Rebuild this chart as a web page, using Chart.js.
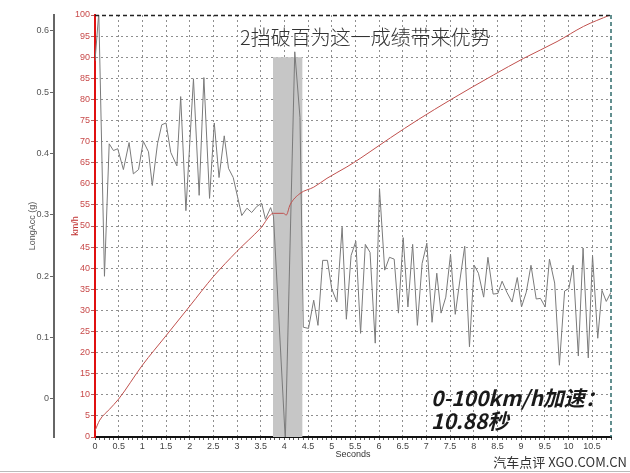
<!DOCTYPE html>
<html>
<head>
<meta charset="utf-8">
<script src="https://cdn.jsdelivr.net/npm/chart.js@4.4.1/dist/chart.umd.min.js"></script>
<style>
  html, body { margin: 0; padding: 0; background: #fff; }
  #wrap { position: relative; width: 630px; height: 473px; }
</style>
</head>
<body>
<div id="wrap"><canvas id="accelChart"></canvas></div>
<script>
// Longitudinal acceleration samples (s, g)
const accTime = [0, 0.08, 0.20, 0.30, 0.39, 0.48, 0.60, 0.72, 0.81, 0.92,
  1.02, 1.13, 1.21, 1.32, 1.41, 1.50, 1.60, 1.73, 1.81, 1.92,
  2.08, 2.20, 2.30, 2.42, 2.52, 2.62, 2.73, 2.82, 2.92, 3.10,
  3.21, 3.31, 3.42, 3.52, 3.60, 3.71, 3.77, 4.02, 4.22, 4.33,
  4.40, 4.51, 4.62, 4.71, 4.81, 4.91, 5.00, 5.11, 5.22, 5.31,
  5.41, 5.51, 5.61, 5.71, 5.81, 5.92, 6.01, 6.12, 6.22, 6.32,
  6.41, 6.51, 6.61, 6.71, 6.81, 6.91, 7.01, 7.12, 7.22, 7.31,
  7.41, 7.51, 7.61, 7.70, 7.81, 7.91, 8.01, 8.10, 8.21, 8.30,
  8.41, 8.51, 8.60, 8.70, 8.81, 8.92, 9.01, 9.11, 9.21, 9.32,
  9.41, 9.51, 9.60, 9.71, 9.81, 9.92, 10.01, 10.10, 10.21, 10.31,
  10.42, 10.51, 10.62, 10.71, 10.80, 10.90];
const accG = [0.551, 0.63, 0.200, 0.416, 0.405, 0.408, 0.374, 0.418, 0.367, 0.374,
  0.420, 0.403, 0.348, 0.416, 0.447, 0.450, 0.402, 0.380, 0.493, 0.307,
  0.522, 0.332, 0.524, 0.327, 0.450, 0.361, 0.429, 0.376, 0.361, 0.299,
  0.311, 0.304, 0.314, 0.319, 0.293, 0.312, 0.298, -0.067, 0.566, 0.459,
  0.117, 0.115, 0.161, 0.120, 0.226, 0.226, 0.180, 0.158, 0.280, 0.130,
  0.234, 0.257, 0.107, 0.252, 0.239, 0.091, 0.343, 0.210, 0.231, 0.228,
  0.140, 0.263, 0.150, 0.252, 0.120, 0.221, 0.254, 0.125, 0.205, 0.140,
  0.166, 0.236, 0.138, 0.189, 0.249, 0.085, 0.218, 0.205, 0.166, 0.231,
  0.171, 0.172, 0.192, 0.174, 0.158, 0.198, 0.150, 0.174, 0.218, 0.163,
  0.164, 0.150, 0.228, 0.189, 0.055, 0.176, 0.180, 0.218, 0.070, 0.246,
  0.067, 0.234, 0.099, 0.177, 0.159, 0.174];

// Vehicle speed samples (s, km/h)
const speedTime = [0, 0.1, 0.3, 0.5, 1.0, 1.5, 2.0, 2.5, 3.0, 3.5, 3.77, 3.98, 4.04, 4.12,
  4.33, 4.62, 4.9, 5.32, 5.6, 5.81, 6.24, 6.84, 7.51, 8.42, 9.05, 9.76, 10.32, 10.88];
const speedKmh = [1.5, 4, 6.5, 9, 17, 24, 31, 38, 44, 49.5, 53, 53, 52.6, 55,
  57.7, 59.2, 61.3, 64, 66, 67.6, 70.9, 75.3, 79.9, 85.8, 89.7, 93.7, 97.3, 100];

// gear change window (s) and its height on the km/h axis
const shiftBand = [3.76, 4.38];
const shiftBandTop = 90;

const chartTitle = '2挡破百为这一成绩带来优势';
const resultLines = ['0-100km/h加速：', '10.88秒'];
const watermark = '汽车点评 XGO.COM.CN';

const tickFont = { family: '"Liberation Sans", Arial, sans-serif', size: 9 };
const cjkFamily = '"Noto Sans CJK SC", "Noto Sans", sans-serif';
const gridGray = '#8f8f8f';

function isHalfStep(v) {
  return Math.abs(v * 2 - Math.round(v * 2)) < 1e-6;
}

// shaded band, plot frame and the texts on top
const decorPlugin = {
  id: 'decor',
  beforeDatasetsDraw(chart) {
    const { ctx, scales: { x, y } } = chart;
    const left = x.getPixelForValue(shiftBand[0]);
    const right = x.getPixelForValue(shiftBand[1]);
    const top = y.getPixelForValue(shiftBandTop);
    const bottom = y.getPixelForValue(0);
    ctx.save();
    ctx.fillStyle = '#c6c6c6';
    ctx.fillRect(left, top, right - left, bottom - top);
    ctx.restore();
  },
  afterDraw(chart) {
    const { ctx, chartArea: a } = chart;
    ctx.save();
    ctx.setLineDash([4, 3]);
    ctx.lineWidth = 1.5;
    ctx.strokeStyle = '#222';
    ctx.beginPath();
    ctx.moveTo(a.left, a.top + 0.5);
    ctx.lineTo(a.right, a.top + 0.5);
    ctx.stroke();
    ctx.strokeStyle = '#2f6b6b';
    ctx.beginPath();
    ctx.moveTo(a.right, a.top);
    ctx.lineTo(a.right, a.bottom);
    ctx.stroke();
    ctx.setLineDash([]);

    // title inside the plot
    ctx.fillStyle = '#333';
    ctx.textBaseline = 'middle';
    ctx.textAlign = 'left';
    ctx.font = '300 20px ' + cjkFamily;
    ctx.fillText(chartTitle, 240, 37);

    // result annotation
    ctx.fillStyle = '#1a1a1a';
    ctx.font = 'italic bold 21px ' + cjkFamily;
    ctx.fillText(resultLines[0], 431, 398);
    ctx.fillText(resultLines[1], 431, 421);

    // watermark and picture frame
    ctx.fillStyle = '#333';
    ctx.font = '13px ' + cjkFamily;
    ctx.textAlign = 'right';
    ctx.fillText(watermark, 627, 462);
    ctx.strokeStyle = '#bbb';
    ctx.lineWidth = 1;
    ctx.beginPath();
    ctx.moveTo(0, 471.5);
    ctx.lineTo(630, 471.5);
    ctx.stroke();
    ctx.restore();
  }
};

const ctx = document.getElementById('accelChart');
new Chart(ctx, {
  type: 'line',
  data: {
    datasets: [
      {
        label: 'km/h',
        data: speedTime.map((t, i) => ({ x: t, y: speedKmh[i] })),
        yAxisID: 'y',
        borderColor: '#c0504d',
        borderWidth: 1,
        pointRadius: 0,
        cubicInterpolationMode: 'monotone'
      },
      {
        label: 'LongAcc (g)',
        data: accTime.map((t, i) => ({ x: t, y: accG[i] })),
        yAxisID: 'yG',
        borderColor: '#7a7a7a',
        borderWidth: 1,
        pointRadius: 0,
        tension: 0
      }
    ]
  },
  options: {
    responsive: true,
    maintainAspectRatio: false,
    animation: false,
    layout: { padding: { top: 15, right: 19, left: 0, bottom: 0 } },
    plugins: {
      legend: { display: false },
      tooltip: { enabled: false }
    },
    scales: {
      x: {
        type: 'linear',
        min: 0,
        max: 10.9,
        afterFit: s => { s.height = 36; },
        ticks: {
          stepSize: 0.1,
          autoSkip: false,
          maxRotation: 0,
          padding: 1,
          color: '#444',
          font: tickFont,
          callback: v => isHalfStep(v) ? String(Number(v.toFixed(1))) : ''
        },
        grid: {
          color: c => (c.tick && isHalfStep(c.tick.value) && c.tick.value > 0) ? gridGray : 'rgba(0,0,0,0)',
          lineWidth: 1,
          tickLength: 3,
          tickColor: '#555'
        },
        border: { color: '#111', width: 2, dash: [2, 3] },
        title: {
          display: true, text: 'Seconds', color: '#333', font: tickFont,
          padding: { top: 0, bottom: 13 }
        }
      },
      y: {
        position: 'left',
        weight: 0,
        min: 0,
        max: 100,
        afterFit: s => { s.width = 41; },
        ticks: { stepSize: 5, color: '#c84a4a', padding: 1, font: tickFont },
        grid: {
          color: c => (c.tick && c.tick.value > 0 && c.tick.value < 100) ? gridGray : 'rgba(0,0,0,0)',
          tickLength: 4,
          tickColor: '#b06060'
        },
        border: { color: '#e01010', width: 2, dash: [2, 3] },
        title: {
          display: true, text: 'km/h', color: '#c03030', font: tickFont,
          padding: { top: 16, bottom: 0 }
        }
      },
      yG: {
        position: 'left',
        weight: 1,
        min: -0.062,
        max: 0.626,
        afterFit: s => { s.width = 54; },
        ticks: { stepSize: 0.1, includeBounds: false, color: '#555', padding: 1, font: tickFont },
        grid: { drawOnChartArea: false, tickLength: 4, color: '#666' },
        border: { color: '#666', width: 2 },
        title: {
          display: true, text: 'LongAcc (g)', color: '#555', font: tickFont,
          padding: { top: 27, bottom: 0 }
        }
      }
    }
  },
  plugins: [decorPlugin]
});
</script>
</body>
</html>
